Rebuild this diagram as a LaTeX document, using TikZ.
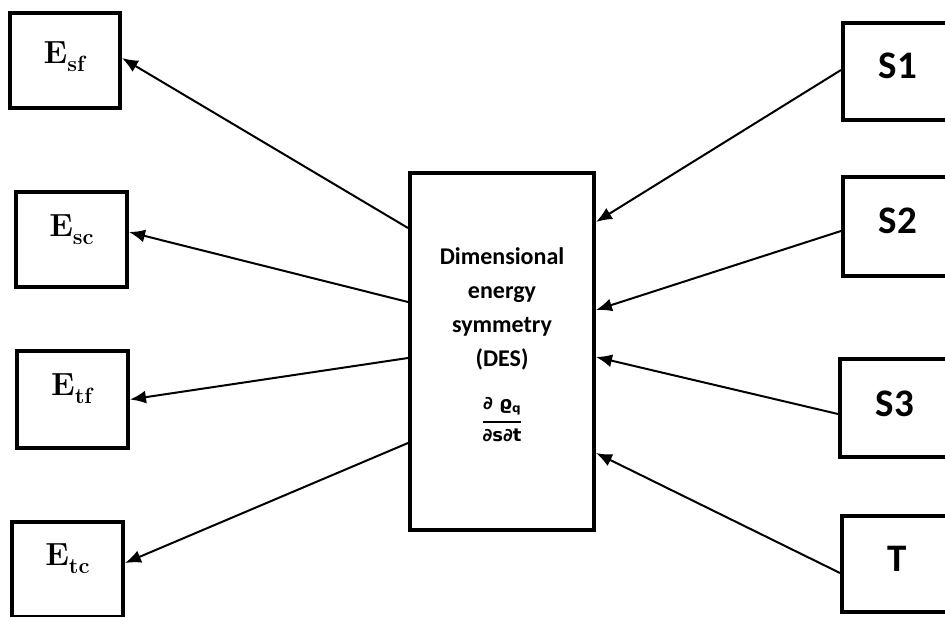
\documentclass[tikz,border=0pt]{standalone}
\usepackage{amsmath}
\usepackage{fontspec}
\newfontfamily\calibri{Carlito}
\newfontfamily\dejasans{DejaVu Sans}
\usetikzlibrary{arrows.meta}
\newcommand{\elab}[2]{\textbf{#1}\raisebox{-8pt}{\fontsize{22}{22}\selectfont\textbf{#2}}}
\begin{document}
\begin{tikzpicture}[x=1pt,y=-1pt,
  box/.style={draw,line width=4pt,minimum width=110pt,minimum height=95pt,inner sep=0pt},
  ebox/.style={box,font=\fontsize{32}{36}\selectfont,text height=22pt},
  sbox/.style={box,font=\calibri\bfseries\fontsize{39}{44}\selectfont,text height=25pt,text depth=12pt},
  desbox/.style={draw,line width=4pt,minimum width=184pt,minimum height=357pt,inner sep=0pt,align=center,font=\calibri\bfseries\fontsize{24}{34}\selectfont},
  conn/.style={line width=2pt},
  arr/.style={conn,-{Latex[length=16pt,width=13pt]}}]
\useasboundingbox (0,0) rectangle (945,616);
% left boxes
\node[ebox,text depth=17pt] (esf) at (65,60.5) {\elab{E}{sf}};
\node[ebox,minimum width=111pt,text depth=29pt] (esc) at (71.5,239.5) {\elab{E}{sc}};
\node[ebox,minimum width=111pt,minimum height=97pt,text depth=31pt] (etf) at (72.5,399.5) {\elab{E}{tf}};
\node[ebox,minimum width=111pt,text depth=31pt] (etc) at (67.5,569.5) {\elab{E}{tc}};
% centre box
\node[desbox] (des) at (502,351.5) {Dimensional\\energy\\symmetry\\(DES)\\[26pt]
  {\dejasans\bfseries\fontsize{18}{20}\selectfont
  $\genfrac{}{}{2pt}{0}{\hbox{∂ ϱ\raisebox{-3pt}{\fontsize{12}{12}\selectfont q}}}{\hbox{∂s∂t\rule[-14pt]{0pt}{14pt}}}$}};
% right boxes
\node[sbox,minimum height=97pt] (s1) at (898,71.5) {S1};
\node[sbox,minimum height=99pt] (s2) at (898,226.5) {S2};
\node[sbox,minimum height=98pt,text depth=9pt] (s3) at (895,408) {S3};
\node[sbox,minimum height=96pt,text depth=11pt] (t) at (897,564) {T};
% connectors to the left
\draw[arr] ([yshift=123.5pt]des.west) -- ([yshift=2.5pt]esf.east);
\draw[arr] ([yshift=49.5pt]des.west) -- ([yshift=7.5pt]esc.east);
\draw[arr] ([yshift=-6.5pt]des.west) -- (etf.east);
\draw[arr] ([yshift=-91.5pt]des.west) -- ([yshift=6.5pt]etc.east);
% connectors from the right
\draw[arr] ([yshift=1.5pt]s1.west) -- ([yshift=129.5pt]des.east);
\draw[arr] ([yshift=-4.5pt]s2.west) -- ([yshift=41.5pt]des.east);
\draw[arr] ([yshift=-6pt]s3.west) -- ([yshift=-5.5pt]des.east);
\draw[arr] ([yshift=-9pt]t.west) -- ([yshift=-101.5pt]des.east);
\end{tikzpicture}
\end{document}
